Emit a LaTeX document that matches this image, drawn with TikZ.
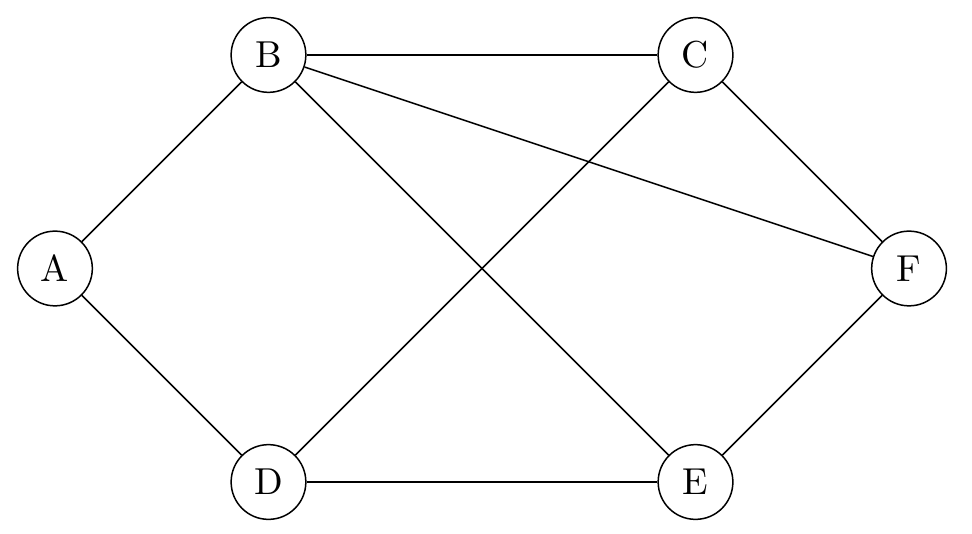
\documentclass[tikz,border=0pt]{standalone}
\begin{document}
\begin{tikzpicture}[vertex/.style={circle,draw,minimum size=0.7cm}]
\useasboundingbox (-0.515,-2.487) rectangle (8.590,2.515);
\node[vertex] (A) at (0,0) {A};
\node[vertex] (B) at (2,2) {B};
\node[vertex] (C) at (6,2) {C};
\node[vertex] (D) at (2,-2) {D};
\node[vertex] (E) at (6,-2) {E};
\node[vertex] (F) at (8,0) {F};
\draw (A) -- (B);
\draw (A) -- (D);
\draw (B) -- (C);
\draw (B) -- (E);
\draw (B) -- (F);
\draw (C) -- (D);
\draw (C) -- (F);
\draw (D) -- (E);
\draw (E) -- (F);
\end{tikzpicture}
\end{document}
